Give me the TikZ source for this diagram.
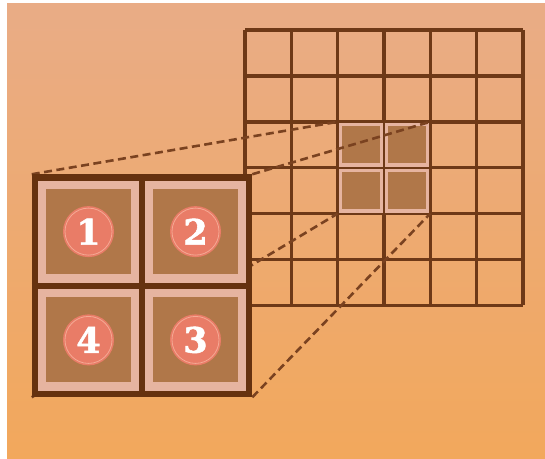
\documentclass[tikz,border=0pt]{standalone}
\usepackage{fontspec}
\usepackage{xcolor}
\usepackage{tikz}
\usetikzlibrary{positioning}
\newfontfamily\digitfont[BoldFeatures={FakeBold=1.6}]{DejaVu Serif}
\definecolor{bgtop}{HTML}{E9AC86}
\definecolor{bgbot}{HTML}{F2A85C}
\definecolor{gridline}{HTML}{6E3917}
\definecolor{framecol}{HTML}{66320F}
\definecolor{cellbrown}{HTML}{B07749}
\definecolor{bandpink}{HTML}{E6B4A0}
\definecolor{discred}{HTML}{E97C67}
\definecolor{discring}{HTML}{F5A994}
\definecolor{dashcol}{HTML}{7A4220}
\pgfdeclarelayer{back}
\pgfdeclarelayer{mid}
\pgfsetlayers{back,mid,main}
\tikzset{
  gridrule/.style = {draw=gridline, line width=3.4pt},
  hicell/.style   = {rectangle, draw=bandpink, line width=3.5pt, fill=cellbrown,
                     minimum width=41pt, minimum height=40.6pt, inner sep=0pt},
  kernbox/.style  = {rectangle, draw=framecol, line width=6.5pt, fill=bandpink,
                     inner sep=0pt, minimum width=214pt, minimum height=216.5pt},
  kerncell/.style = {rectangle, fill=cellbrown, inner sep=0pt, minimum size=85pt},
  numdisc/.style  = {circle, fill=discred, draw=discred, double=discring,
                     double distance=0.8pt, line width=1.6pt, minimum size=47pt,
                     inner sep=0pt, text=white,
                     font=\digitfont\bfseries\fontsize{35}{35}\selectfont},
  zoomline/.style = {draw=dashcol, line width=2.6pt, dash pattern=on 8pt off 4.5pt},
}
\begin{document}
\begin{tikzpicture}[x=1pt, y=-1pt]
  \useasboundingbox (0,0) rectangle (545,458);
  \begin{pgfonlayer}{back}
    % paper
    \fill[white] (0,0) rectangle (545,458);
    \shade[top color=bgtop, bottom color=bgbot] (7,3) rectangle (545,458);
    % input grid
    \foreach \i in {0,...,6}
      {\draw[gridrule] (245+\i*46.3,30) -- (245+\i*46.3,305.4);
       \draw[gridrule] (245,30+\i*45.9) -- (522.8,30+\i*45.9);}
    % window under the filter
    \node[minimum width=92.6pt, minimum height=91.8pt, inner sep=0pt, outer sep=0pt]
      (patch) at (383.9,167.7) {};
    \foreach \cx/\cy [count=\k] in {0/0, 1/0, 1/1, 0/1}
      \node[hicell] (h\k) at (360.75+\cx*46.3, 144.75+\cy*45.9) {};
  \end{pgfonlayer}

  % 2x2 filter
  \node[kernbox] (kern) at (142,285.75) {};
  \draw[framecol, line width=6.5pt] (kern.north) -- (kern.south)
                                    (kern.west) -- (kern.east);
  \foreach \cx/\cy [count=\k] in {88.5/231.6, 195.5/231.6, 195.5/339.9, 88.5/339.9}
    {\node[kerncell] (c\k) at (\cx,\cy) {};
     \node[numdisc] (n\k) at (c\k) {\k};}

  % zoom lines
  \begin{pgfonlayer}{mid}
    \foreach \corner in {north west, north east, south east, south west}
      \draw[zoomline] (kern.\corner) -- (patch.\corner);
  \end{pgfonlayer}
\end{tikzpicture}
\end{document}
